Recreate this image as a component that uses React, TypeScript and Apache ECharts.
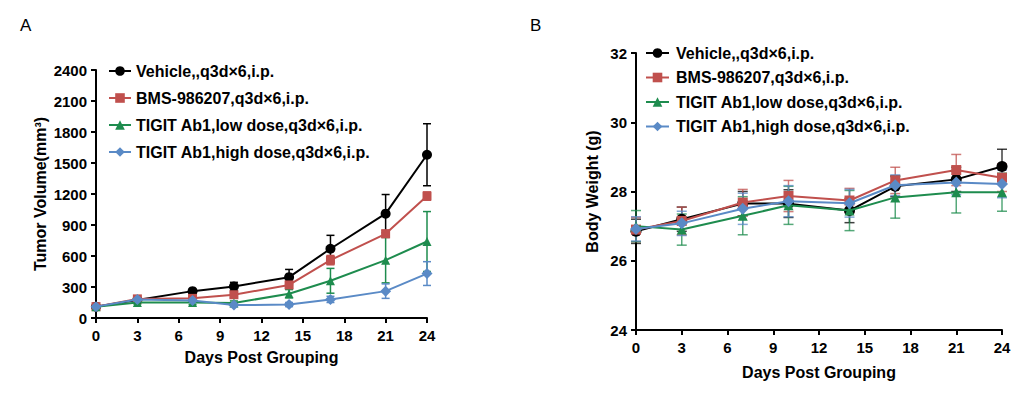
import React, { useEffect, useRef } from "react";
import * as echarts from "echarts";

const days = [0, 3, 7, 10, 14, 17, 21, 24];
const groupNames = [
  "Vehicle,,q3d×6,i.p.",
  "BMS-986207,q3d×6,i.p.",
  "TIGIT Ab1,low dose,q3d×6,i.p.",
  "TIGIT Ab1,high dose,q3d×6,i.p.",
];
const groupColors = ["#000000", "#c0504d", "#1e8c4e", "#5a8ac6"];
const groupSymbols = ["circle", "rect", "triangle", "diamond"];

// Panel A: tumor volume (mm3), mean and SEM
const vehicleVol = [110, 175, 260, 305, 395, 670, 1010, 1580];
const vehicleVolErr = [15, 20, 20, 40, 75, 130, 185, 300];
const bmsVol = [110, 185, 190, 225, 320, 560, 815, 1180];
const bmsVolErr = [10, 15, 15, 25, 35, 45, 35, 40];
const lowVol = [110, 150, 150, 145, 235, 360, 560, 740];
const lowVolErr = [10, 15, 20, 20, 40, 120, 220, 290];
const highVol = [110, 180, 170, 125, 130, 180, 260, 430];
const highVolErr = [10, 15, 15, 15, 20, 30, 70, 115];

// Panel B: body weight (g), mean and SEM
const vehicleBW = [26.85, 27.2, 27.65, 27.65, 27.45, 28.15, 28.35, 28.72];
const vehicleBWErr = [0.35, 0.35, 0.35, 0.4, 0.35, 0.3, 0.35, 0.5];
const bmsBW = [26.9, 27.15, 27.68, 27.87, 27.74, 28.32, 28.62, 28.4];
const bmsBWErr = [0.35, 0.4, 0.38, 0.45, 0.35, 0.38, 0.45, 0.4];
const lowBW = [27.0, 26.9, 27.3, 27.6, 27.45, 27.83, 27.98, 27.98];
const lowBWErr = [0.45, 0.45, 0.55, 0.55, 0.58, 0.6, 0.6, 0.55];
const highBW = [26.92, 27.08, 27.5, 27.72, 27.66, 28.18, 28.26, 28.22];
const highBWErr = [0.35, 0.35, 0.45, 0.45, 0.4, 0.3, 0.35, 0.4];

const FONT = "'Liberation Sans', Arial, Helvetica, sans-serif";

function buildSeries(
  gridIdx: number,
  means: number[][],
  errs: number[][],
  symbolSize: number,
  capHalf: number,
  errOpacity: number
) {
  const out: any[] = [];
  means.forEach((m, i) => {
    const e = errs[i];
    out.push({
      type: "custom",
      name: "err" + gridIdx + "-" + i,
      xAxisIndex: gridIdx,
      yAxisIndex: gridIdx,
      z: 2,
      silent: true,
      clip: false,
      data: days.map((d, k) => [d, m[k], e[k]]),
      renderItem: (params: any, api: any) => {
        const x = api.value(0);
        const y = api.value(1);
        const er = api.value(2);
        const top = api.coord([x, y + er]);
        const bot = api.coord([x, y - er]);
        const st = { stroke: groupColors[i], lineWidth: 1.5, opacity: errOpacity };
        return {
          type: "group",
          children: [
            { type: "line", shape: { x1: top[0], y1: top[1], x2: bot[0], y2: bot[1] }, style: st },
            { type: "line", shape: { x1: top[0] - capHalf, y1: top[1], x2: top[0] + capHalf, y2: top[1] }, style: st },
            { type: "line", shape: { x1: bot[0] - capHalf, y1: bot[1], x2: bot[0] + capHalf, y2: bot[1] }, style: st },
          ],
        };
      },
    });
  });
  means.forEach((m, i) => {
    out.push({
      type: "line",
      name: groupNames[i],
      xAxisIndex: gridIdx,
      yAxisIndex: gridIdx,
      z: 3 + i,
      clip: false,
      data: days.map((d, k) => [d, m[k]]),
      symbol: groupSymbols[i],
      symbolSize: i === 3 ? symbolSize + 1 : i === 0 ? symbolSize : symbolSize - 1,
      itemStyle: { color: groupColors[i] },
      lineStyle: { color: groupColors[i], width: 2 },
    });
  });
  return out;
}

function xAxisCfg(gridIndex: number, nameGap: number) {
  return {
    type: "value",
    gridIndex,
    min: 0,
    max: 24,
    interval: 3,
    name: "Days Post Grouping",
    nameLocation: "middle",
    nameGap,
    nameTextStyle: { fontFamily: FONT, fontWeight: "bold", fontSize: 16, color: "#000" },
    axisLine: { show: true, onZero: false, lineStyle: { color: "#000", width: 2 } },
    axisTick: { show: true, inside: false, length: 5, lineStyle: { color: "#000", width: 2 } },
    axisLabel: { fontFamily: FONT, fontWeight: "bold", fontSize: 15, color: "#000", margin: 10 },
    splitLine: { show: false },
  };
}

function yAxisCfg(gridIndex: number, min: number, max: number, interval: number, name: string, nameGap: number) {
  return {
    type: "value",
    gridIndex,
    min,
    max,
    interval,
    name,
    nameLocation: "middle",
    nameGap,
    nameRotate: 90,
    nameTextStyle: { fontFamily: FONT, fontWeight: "bold", fontSize: 16, color: "#000" },
    axisLine: { show: true, onZero: false, lineStyle: { color: "#000", width: 2 } },
    axisTick: { show: true, inside: false, length: 5, lineStyle: { color: "#000", width: 2 } },
    axisLabel: {
      fontFamily: FONT,
      fontWeight: "bold",
      fontSize: 15,
      color: "#000",
      margin: 9,
      formatter: (v: number) => String(v),
    },
    splitLine: { show: false },
  };
}

export default function App() {
  const ref = useRef<HTMLDivElement>(null);
  useEffect(() => {
    document.body.style.margin = "0";
    const chart = echarts.init(ref.current!, null, { renderer: "svg" });
    const option: any = {
      animation: false,
      backgroundColor: "#ffffff",
      textStyle: { fontFamily: FONT },
      graphic: [
        { type: "text", left: 20, top: 17, style: { text: "A", fontFamily: FONT, fontSize: 17, fill: "#000" } },
        { type: "text", left: 530, top: 17, style: { text: "B", fontFamily: FONT, fontSize: 17, fill: "#000" } },
      ],
      grid: [
        { left: 96, right: 605, top: 70, bottom: 80, containLabel: false },
        { left: 636, right: 30, top: 53, bottom: 68, containLabel: false },
      ],
      xAxis: [xAxisCfg(0, 31), xAxisCfg(1, 34)],
      yAxis: [
        yAxisCfg(0, 0, 2400, 300, "Tumor Volume(mm³)", 48),
        yAxisCfg(1, 24, 32, 2, "Body Weight (g)", 36),
      ],
      legend: [
        {
          data: groupNames,
          orient: "vertical",
          left: 103,
          top: 58,
          itemWidth: 22,
          itemHeight: 12,
          itemGap: 11,
          selectedMode: false,
          textStyle: { fontFamily: FONT, fontWeight: "bold", fontSize: 16, color: "#000" },
        },
        {
          data: groupNames,
          orient: "vertical",
          left: 640,
          top: 40,
          itemWidth: 23,
          itemHeight: 12,
          itemGap: 8.5,
          selectedMode: false,
          textStyle: { fontFamily: FONT, fontWeight: "bold", fontSize: 16, color: "#000", padding: [0, 0, 0, 2] },
        },
      ],
      series: [
        ...buildSeries(0, [vehicleVol, bmsVol, lowVol, highVol], [vehicleVolErr, bmsVolErr, lowVolErr, highVolErr], 10, 4, 1),
        ...buildSeries(1, [vehicleBW, bmsBW, lowBW, highBW], [vehicleBWErr, bmsBWErr, lowBWErr, highBWErr], 11, 5, 0.75),
      ],
    };
    chart.setOption(option);
    return () => chart.dispose();
  }, []);
  return (
    <div
      ref={ref}
      style={{ position: "absolute", left: 0, top: 0, width: 1032, height: 398, background: "#fff" }}
    />
  );
}
